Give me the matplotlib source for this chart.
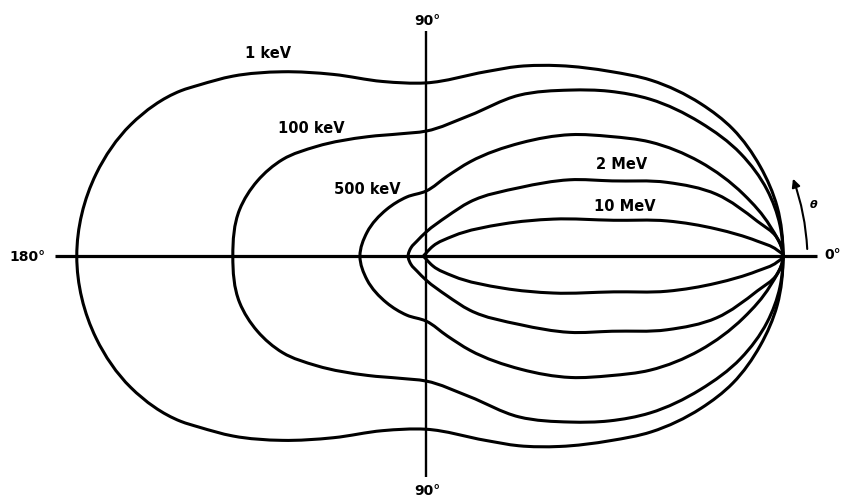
import numpy as np
import matplotlib.pyplot as plt
from matplotlib.path import Path
from matplotlib.patches import PathPatch

# relative intensity (1.0 at 0 deg), read from the upper half; lower half is a mirror
ang_1kev = [0, 8, 15, 22.5, 29, 38, 45, 55, 64, 72, 90, 104, 117, 128, 137, 143, 146, 156, 166, 180]
r_1kev = [1.0, 0.993, 0.969, 0.930, 0.880, 0.800, 0.731, 0.651, 0.591, 0.543, 0.485,
          0.504, 0.571, 0.655, 0.739, 0.796, 0.828, 0.905, 0.952, 0.978]

ang_100kev = [0, 5, 11, 18, 26, 35, 42, 49, 60, 73, 90, 102, 116, 135, 146, 156, 166, 180]
r_100kev = [1.0, 0.995, 0.973, 0.927, 0.854, 0.766, 0.690, 0.616, 0.520, 0.411, 0.350,
            0.350, 0.372, 0.434, 0.484, 0.517, 0.538, 0.541]

ang_500kev = [0, 5, 11, 19, 27, 33, 40, 50, 65, 75, 90, 108, 130, 158, 180]
r_500kev = [1.0, 0.967, 0.906, 0.811, 0.704, 0.615, 0.529, 0.414, 0.291, 0.232, 0.182,
            0.174, 0.171, 0.178, 0.185]

ang_2mev = [0, 3, 6, 12, 17, 22, 28, 36, 51, 62, 90, 121, 150, 180]
r_2mev = [1.0, 0.984, 0.933, 0.832, 0.706, 0.562, 0.455, 0.327, 0.195, 0.126, 0.067,
          0.049, 0.048, 0.050]

ang_10mev = [0, 1, 2.6, 5.3, 8.3, 10.8, 16.2, 22.6, 36.5, 55, 90, 180]
r_10mev = [1.0, 0.983, 0.928, 0.818, 0.682, 0.535, 0.371, 0.234, 0.094, 0.034, 0.008, 0.006]

curves = [(ang_1kev, r_1kev), (ang_100kev, r_100kev), (ang_500kev, r_500kev),
          (ang_2mev, r_2mev), (ang_10mev, r_10mev)]
labels = ["1 keV", "100 keV", "500 keV", "2 MeV", "10 MeV"]
label_xy = [(-0.443, 0.569), (-0.322, 0.359), (-0.165, 0.188), (0.549, 0.258), (0.557, 0.143)]


def closed_path(ang, r):
    # mirror the upper half, then join the points with smooth bezier segments
    ang = np.asarray(ang, float)
    r = np.asarray(r, float)
    a = np.radians(np.r_[ang, 360 - ang[-2:0:-1]])
    rr = np.r_[r, r[-2:0:-1]]
    p = np.c_[rr * np.cos(a), rr * np.sin(a)]
    n = len(p)
    # bessel tangents (handle uneven spacing)
    tang = []
    for i in range(n):
        a0, a1 = p[i] - p[i - 1], p[(i + 1) % n] - p[i]
        d0, d1 = np.hypot(*a0), np.hypot(*a1)
        t = (a0 / d0) * d1 + (a1 / d1) * d0
        tang.append(t / np.hypot(*t))
    verts = [p[0]]
    codes = [Path.MOVETO]
    for i in range(n):
        j = (i + 1) % n
        d = np.hypot(*(p[j] - p[i]))
        verts += [p[i] + tang[i] * d / 3, p[j] - tang[j] * d / 3, p[j]]
        codes += [Path.CURVE4] * 3
    return Path(verts, codes)


fig = plt.figure(figsize=(8.42, 5.02), dpi=100)
ax = fig.add_axes([0, 0, 1, 1])
ax.set_xlim(-1.193, 1.165)
ax.set_ylim(-0.686, 0.720)
ax.axis("off")

# axes of the polar diagram
ax.plot([-1.04, 1.095], [0, 0], color="black", lw=2.3, solid_capstyle="butt")
ax.plot([0, 0], [-0.62, 0.63], color="black", lw=1.7, solid_capstyle="butt")

for (ang, r) in curves:
    ax.add_patch(PathPatch(closed_path(ang, r), fill=False, ec="black", lw=2.2))

for lab, (x, y) in zip(labels, label_xy):
    ax.text(x, y, lab, ha="center", va="center", fontsize=10.5, fontweight="bold")

ax.text(0.003, 0.662, "90°", ha="center", va="center", fontsize=10, fontweight="bold")
ax.text(0.003, -0.656, "90°", ha="center", va="center", fontsize=10, fontweight="bold")
ax.text(-1.115, 0.0, "180°", ha="center", va="center", fontsize=10, fontweight="bold")
ax.text(1.14, 0.006, "0°", ha="center", va="center", fontsize=10, fontweight="bold")

# direction of theta
ax.annotate("", xy=(1.025, 0.224), xytext=(1.068, 0.012),
            arrowprops=dict(arrowstyle="-|>", connectionstyle="arc3,rad=0.08",
                            color="black", lw=1.5, mutation_scale=12))
ax.text(1.084, 0.146, "θ", ha="center", va="center", fontsize=8, style="italic",
        fontweight="bold")

plt.savefig("out.png", dpi=100)
